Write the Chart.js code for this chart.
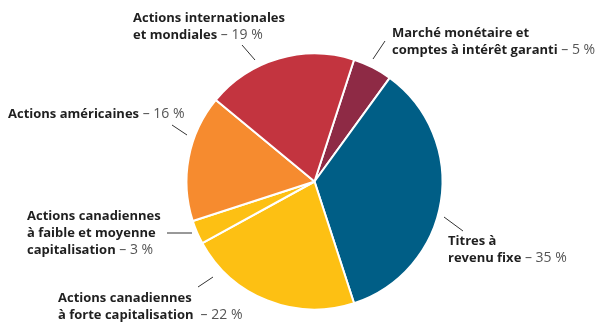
<!DOCTYPE html>
<html>
<head>
<meta charset="utf-8">
<script src="https://cdn.jsdelivr.net/npm/chart.js@4.4.0/dist/chart.umd.min.js"></script>
<style>
  html, body { margin: 0; padding: 0; background: #fff; }
  #wrap { width: 598px; height: 323px; position: relative; }
</style>
</head>
<body>
<div id="wrap"><canvas id="pieChart" width="598" height="323"></canvas></div>
<script>
// ========== DONNÉES ==========
const categories = [
    'Marché monétaire et comptes à intérêt garanti',
    'Titres à revenu fixe',
    'Actions canadiennes à forte capitalisation',
    'Actions canadiennes à faible et moyenne capitalisation',
    'Actions américaines',
    'Actions internationales et mondiales'
];
const values = [5, 35, 22, 3, 16, 19];
const colors = ['#8e2a45', '#005e86', '#fdc013', '#fdc013', '#f68b2f', '#c3343f'];

// lignes de libellé (texte en gras), le pourcentage est ajouté à la dernière ligne
const labelLines = [
    ['Marché monétaire et', 'comptes à intérêt garanti'],
    ['Titres à', 'revenu fixe'],
    ['Actions canadiennes', 'à forte capitalisation '],
    ['Actions canadiennes', 'à faible et moyenne', 'capitalisation'],
    ['Actions américaines'],
    ['Actions internationales', 'et mondiales']
];

// position des libellés et des traits de rappel
const labelLayout = [
    { x: 392, y: 37, line: [373, 59, 385, 41] },
    { x: 448, y: 245, line: [444, 217, 463, 231] },
    { x: 58, y: 302, line: [198, 287, 213, 277] },
    { x: 27, y: 220, line: [167, 233, 192, 233] },
    { x: 8, y: 118, line: [172, 125, 187, 135] },
    { x: 133, y: 22, line: [242, 45, 255, 60] }
];

const calloutPlugin = {
    id: 'callouts',
    afterDraw(chart) {
        const ctx = chart.ctx;
        ctx.save();
        ctx.textBaseline = 'alphabetic';
        ctx.textAlign = 'left';
        labelLines.forEach((lines, i) => {
            const pos = labelLayout[i];
            lines.forEach((txt, j) => {
                const y = pos.y + j * 17;
                ctx.font = 'bold 13px "Open Sans"';
                ctx.fillStyle = '#1f1f1f';
                ctx.fillText(txt, pos.x, y);
                if (j === lines.length - 1) {
                    const w = ctx.measureText(txt).width;
                    ctx.font = '14px "Open Sans"';
                    ctx.fillStyle = '#555';
                    ctx.fillText(' – ' + values[i] + ' %', pos.x + w, y);
                }
            });
            const l = pos.line;
            ctx.strokeStyle = '#333';
            ctx.lineWidth = 1;
            ctx.beginPath();
            ctx.moveTo(l[0], l[1]);
            ctx.lineTo(l[2], l[3]);
            ctx.stroke();
        });
        ctx.restore();
    }
};

new Chart(document.getElementById('pieChart'), {
    type: 'pie',
    data: {
        labels: categories,
        datasets: [{
            data: values,
            backgroundColor: colors,
            borderColor: '#ffffff',
            borderWidth: 2,
            hoverOffset: 0
        }]
    },
    options: {
        responsive: false,
        animation: false,
        rotation: 18,
        radius: 128,
        layout: {
            padding: { left: 187, right: 156, top: 54, bottom: 14 }
        },
        plugins: {
            legend: { display: false },
            tooltip: { enabled: false }
        }
    },
    plugins: [calloutPlugin]
});
</script>
</body>
</html>
